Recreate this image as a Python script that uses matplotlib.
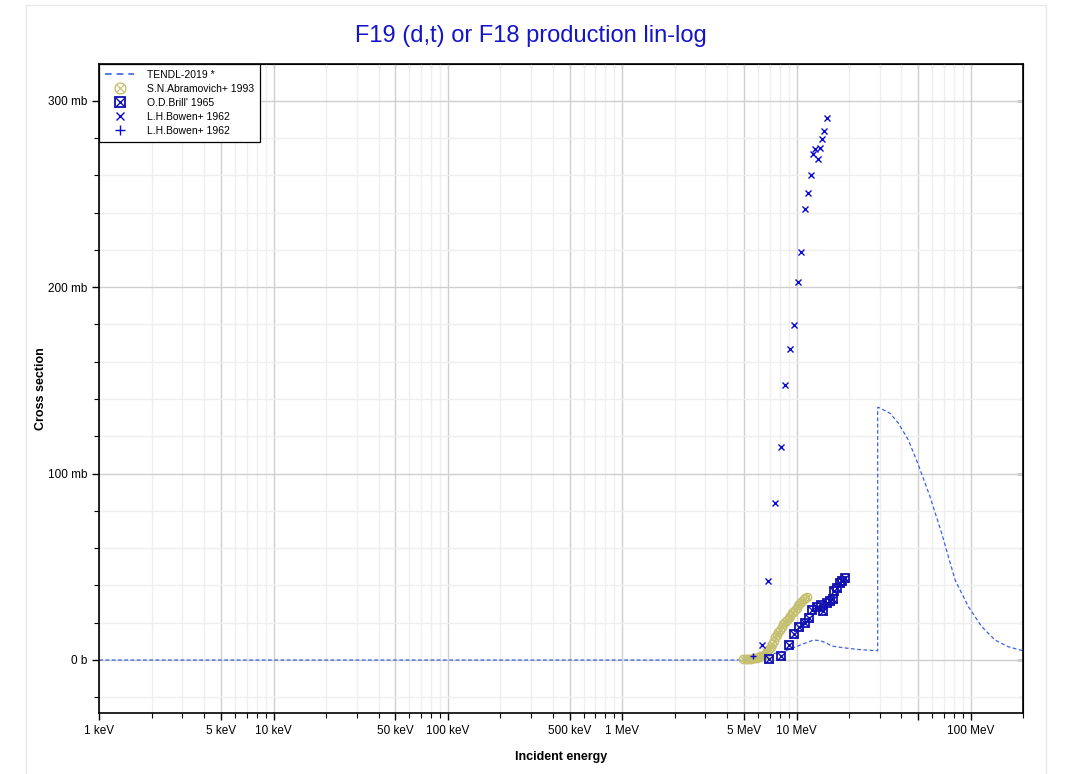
import matplotlib
matplotlib.use("Agg")
import matplotlib.pyplot as plt
import matplotlib.ticker as mticker
from matplotlib.patches import Rectangle
from matplotlib.legend_handler import HandlerTuple

plt.rcParams["font.family"] = ["Liberation Sans", "DejaVu Sans"]

# ── Data (energies in MeV, cross sections in mb) ─────────────
tendl_e = [0.001, 4.5, 5.0, 5.66, 6.75, 8.41, 10.49, 12.5, 13.66, 14.9, 15.91,
           17.78, 22.14, 28.4, 29.2, 29.2, 29.5, 31.6, 34.4, 38.4, 43.8, 50.0,
           58.3, 68.0, 81.2, 96.8, 115.3, 137.7, 164.0, 191.0, 200.0]
tendl_xs = [0.0, 0.0, 0.1, 0.6, 2.7, 4.5, 8.0, 10.7, 10.4, 9.0, 7.5,
            6.8, 5.7, 5.0, 5.0, 135.5, 135.5, 134.1, 132.3, 127.0, 118.0, 104.6,
            87.6, 68.0, 42.9, 28.6, 17.9, 10.7, 7.1, 5.4, 5.0]

abram_e = [4.96, 5.10, 5.22, 5.35, 5.48, 5.62, 5.76, 5.90, 6.05, 6.20, 6.35,
           6.50, 6.65, 6.80, 6.95, 7.10, 7.25, 7.40, 7.55, 7.70, 7.85, 8.00,
           8.20, 8.40, 8.60, 8.80, 9.00, 9.20, 9.40, 9.60, 9.80, 10.00, 10.25,
           10.50, 10.75, 11.00, 11.25, 11.55]
abram_xs = [0.5, 0.5, 0.5, 0.6, 0.7, 0.9, 1.1, 1.3, 1.5, 1.9, 2.3,
            2.9, 3.8, 4.8, 6.0, 7.2, 8.7, 10.4, 12.2, 13.6, 15.0, 16.0,
            17.8, 19.3, 20.6, 21.5, 22.4, 23.8, 25.1, 25.9, 26.8, 27.9, 29.5,
            30.8, 31.9, 32.7, 33.2, 33.6]

brill_e = [6.99, 8.16, 9.02, 9.72, 10.39, 11.14, 11.86, 12.34, 13.18, 13.77,
           14.27, 14.90, 15.58, 16.28, 16.49, 17.16, 17.78, 18.26, 18.99]
brill_xs = [0.5, 2.3, 8.0, 13.9, 17.9, 19.7, 22.7, 26.8, 28.3, 29.5,
            26.4, 30.7, 31.8, 32.6, 36.9, 38.5, 41.1, 42.5, 43.8]

bowen_x_e = [6.37, 6.90, 7.57, 8.12, 8.64, 9.19, 9.72, 10.16, 10.67, 11.14,
             11.59, 12.12, 12.45, 12.83, 13.30, 13.66, 14.08, 14.45, 14.90]
bowen_x_xs = [8.0, 42.4, 84.1, 114.1, 147.7, 166.6, 179.6, 202.7, 219.0, 241.8,
              250.5, 260.0, 271.3, 274.1, 268.9, 274.7, 279.5, 283.6, 290.6]

bowen_p_e = [5.59]
bowen_p_xs = [2.0]

x_major = [0.001, 0.005, 0.01, 0.05, 0.1, 0.5, 1, 5, 10, 50, 100]
x_labels = ["1 keV", "5 keV", "10 keV", "50 keV", "100 keV", "500 keV",
            "1 MeV", "5 MeV", "10 MeV", "", "100 MeV"]
y_major = [0, 100, 200, 300]
y_labels = ["0 b", "100 mb", "200 mb", "300 mb"]

# ── Figure ───────────────────────────────────────────────────
fig = plt.figure(figsize=(10.71, 7.74), dpi=100)
ax = fig.add_axes([0.0927, 0.0784, 0.8628, 0.8385])

fig.patches.append(Rectangle((0.024, -0.01), 0.953, 1.004, transform=fig.transFigure,
                             fill=False, edgecolor="#e8e8e8", linewidth=1))

x_minor = [m * 10.0 ** d for d in range(-3, 3) for m in range(2, 10)
           if m != 5 and m * 10.0 ** d <= 200]

ax.set_xscale("log")
ax.set_xlim(0.001, 200)
ax.set_ylim(-28.6, 319.5)

ax.xaxis.set_major_locator(mticker.FixedLocator(x_major))
ax.xaxis.set_minor_locator(mticker.FixedLocator(x_minor))
ax.xaxis.set_major_formatter(mticker.FixedFormatter(x_labels))
ax.xaxis.set_minor_formatter(mticker.NullFormatter())
ax.yaxis.set_major_locator(mticker.FixedLocator(y_major))
ax.yaxis.set_major_formatter(mticker.FixedFormatter(y_labels))
ax.yaxis.set_minor_locator(mticker.MultipleLocator(20))

ax.grid(True, which="major", color="#cfcfcf", linewidth=1)
ax.grid(True, which="minor", color="#efefef", linewidth=1)
ax.set_axisbelow(True)

ax.tick_params(which="major", direction="out", length=5, width=1, labelsize=8.5, colors="black")
ax.tick_params(which="minor", direction="out", length=3.5, width=0.8)
for s in ax.spines.values():
    s.set_linewidth(1.2)
    s.set_color("black")

# inward ticks on top / right
top = ax.secondary_xaxis("top")
top.xaxis.set_major_locator(mticker.FixedLocator(x_major))
top.xaxis.set_minor_locator(mticker.FixedLocator(x_minor))
top.xaxis.set_major_formatter(mticker.NullFormatter())
top.xaxis.set_minor_formatter(mticker.NullFormatter())
top.tick_params(which="both", direction="in", length=3, width=0.8)
right = ax.secondary_yaxis("right")
right.yaxis.set_major_locator(mticker.FixedLocator(y_major))
right.yaxis.set_minor_locator(mticker.MultipleLocator(20))
right.yaxis.set_major_formatter(mticker.NullFormatter())
right.tick_params(which="major", direction="in", length=4, width=1, colors="black")
right.tick_params(which="minor", direction="in", length=3, width=0.8, colors="black")

# ── Series ───────────────────────────────────────────────────
tendl, = ax.plot(tendl_e, tendl_xs, color="#3c64e0", linewidth=0.9,
                 dashes=(3, 2), zorder=2)

ab_o, = ax.plot(abram_e, abram_xs, linestyle="none", marker="o", markersize=6,
                markerfacecolor="none", markeredgecolor="#c4c070", markeredgewidth=1.0, zorder=3)
ab_x, = ax.plot(abram_e, abram_xs, linestyle="none", marker="x", markersize=4,
                markeredgecolor="#c4c070", markeredgewidth=0.8, zorder=3)

br_s, = ax.plot(brill_e, brill_xs, linestyle="none", marker="s", markersize=5.8,
                markerfacecolor="none", markeredgecolor="#1010b0", markeredgewidth=1.3, zorder=4)
br_x, = ax.plot(brill_e, brill_xs, linestyle="none", marker="x", markersize=5.2,
                markeredgecolor="#1010b0", markeredgewidth=1.0, zorder=4)

bw_x, = ax.plot(bowen_x_e, bowen_x_xs, linestyle="none", marker="x", markersize=4,
                markeredgecolor="#0a0ad0", markeredgewidth=1.0, zorder=5)
bw_p, = ax.plot(bowen_p_e, bowen_p_xs, linestyle="none", marker="+", markersize=5,
                markeredgecolor="#0a0ad0", markeredgewidth=1.0, zorder=5)

# legend-only dashed line with longer dashes
tendl_leg, = ax.plot([], [], color="#3c64e0", linewidth=1.2, dashes=(4, 3))

leg = ax.legend([tendl_leg, (ab_o, ab_x), (br_s, br_x), bw_x, bw_p],
                ["TENDL-2019 *", "S.N.Abramovich+ 1993", "O.D.Brill' 1965",
                 "L.H.Bowen+ 1962", "L.H.Bowen+ 1962"],
                handler_map={tuple: HandlerTuple(ndivide=1, pad=0)},
                loc="upper left", borderaxespad=0, fontsize=7.5, fancybox=False,
                framealpha=1, edgecolor="black", handlelength=2.8,
                handletextpad=1.2, labelspacing=0.38, borderpad=0.55, markerscale=1.3)
leg.get_frame().set_linewidth(0.9)

# ── Text ─────────────────────────────────────────────────────
fig.text(0.496, 0.953, "F19 (d,t) or F18 production lin-log", ha="center", va="center",
         fontsize=17, color="#1414c8")
ax.set_xlabel("Incident energy", fontsize=9, fontweight="bold", labelpad=10)
ax.set_ylabel("Cross section", fontsize=9, fontweight="bold", labelpad=1)

fig.savefig("out.png", dpi=100)
